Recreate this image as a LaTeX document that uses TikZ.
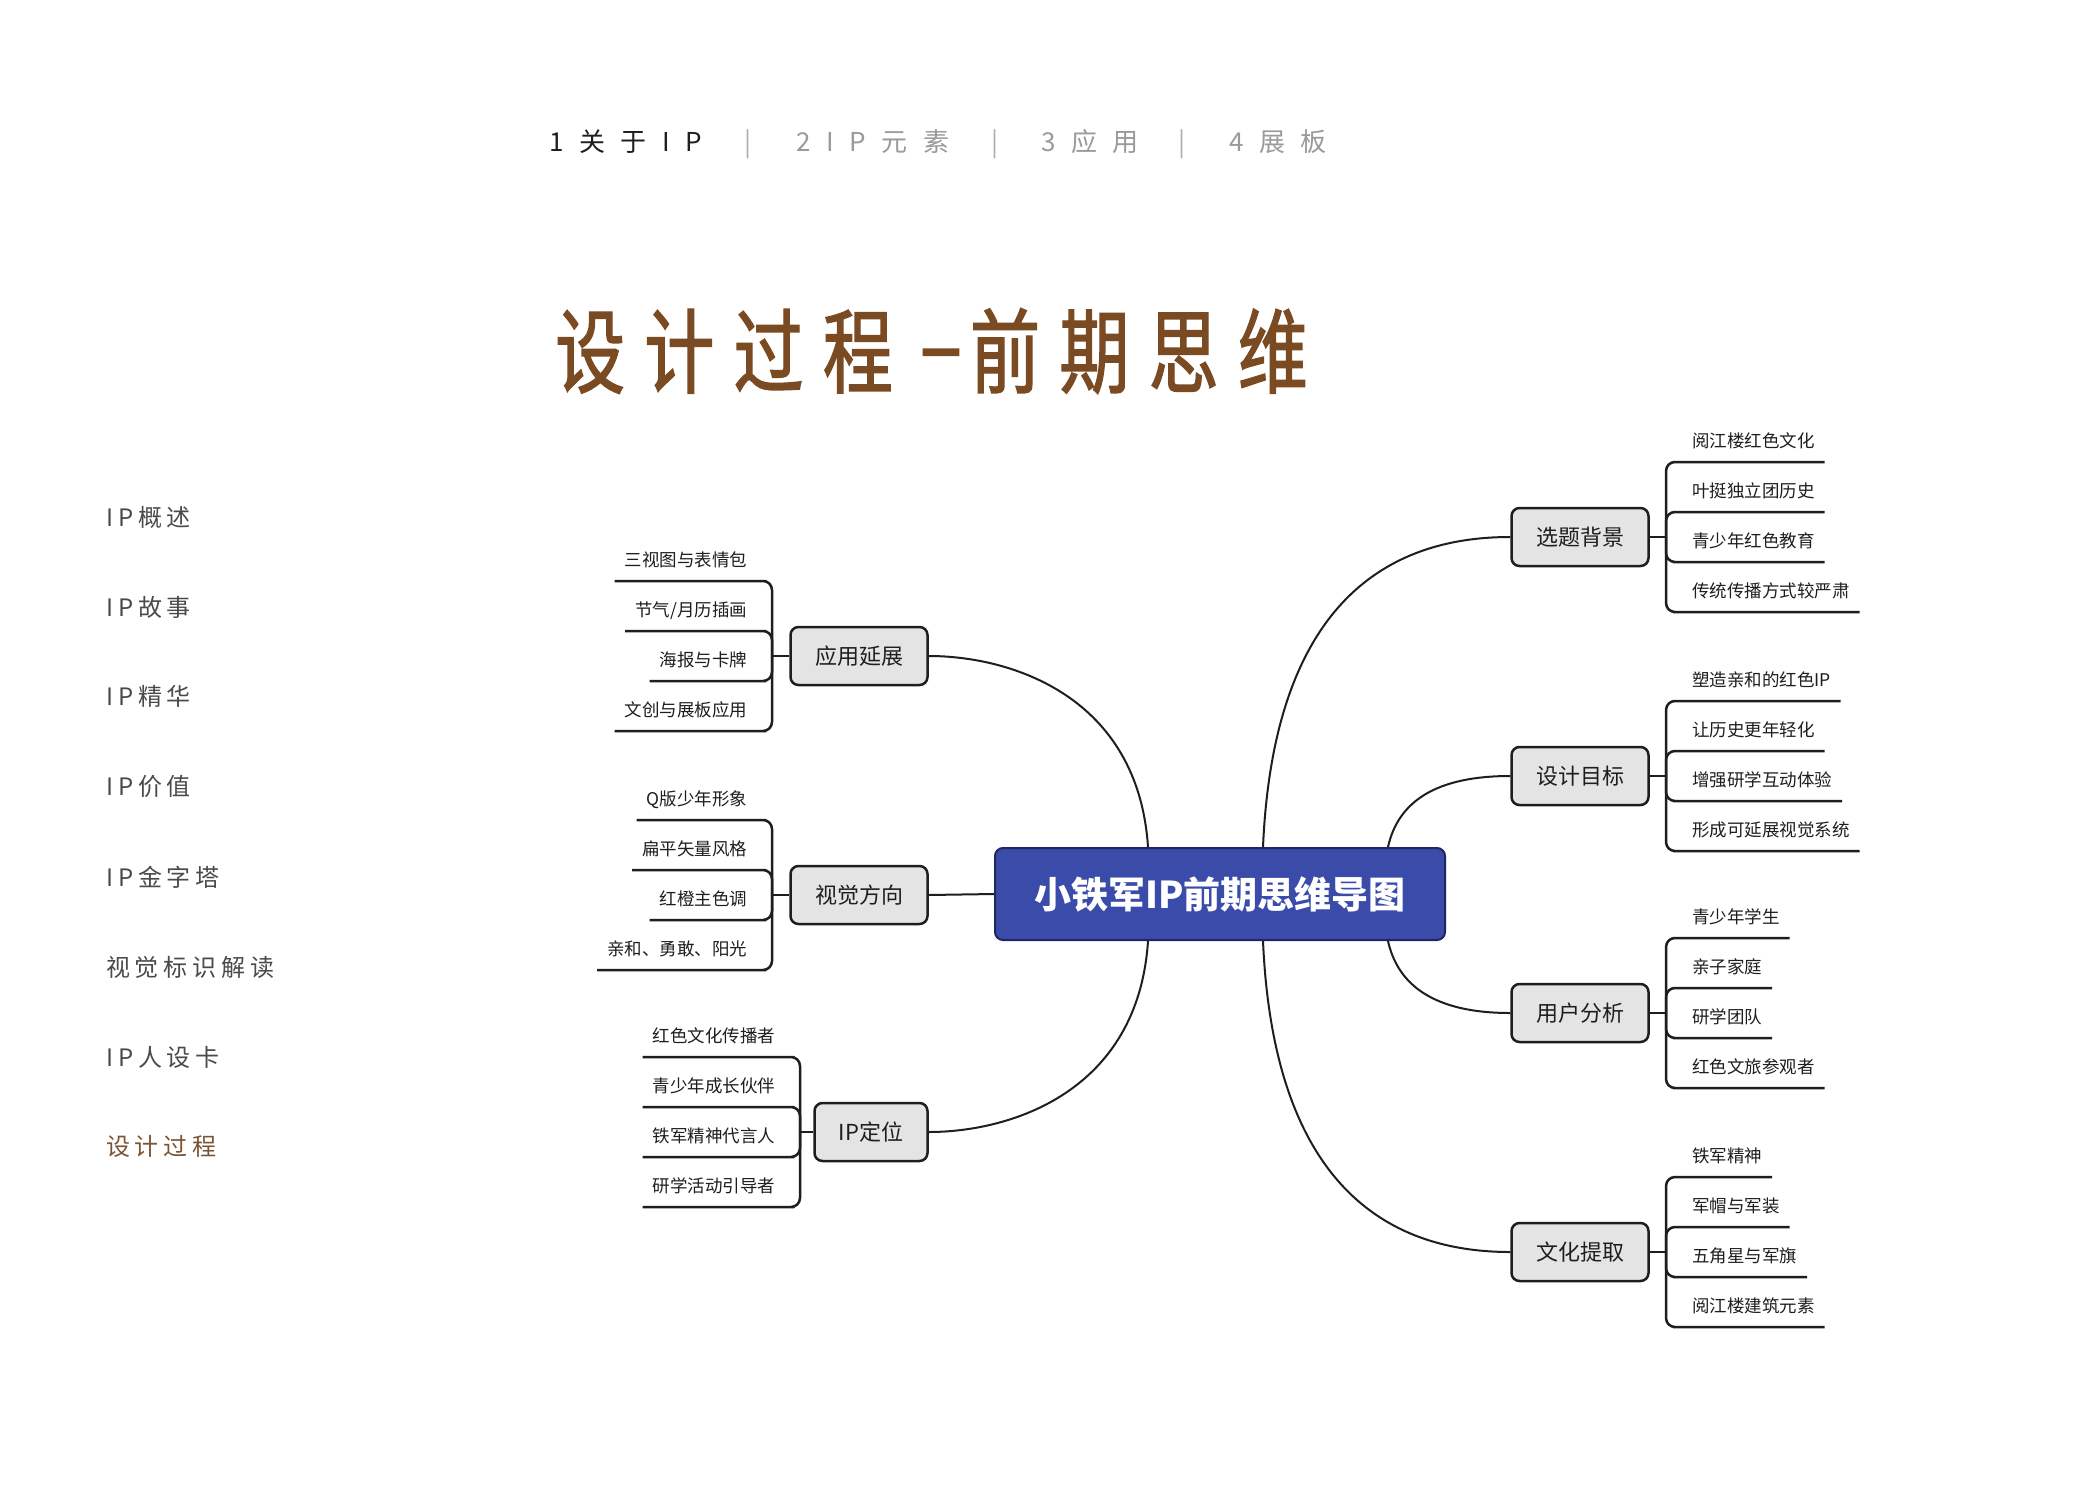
\documentclass[tikz,border=0pt]{standalone}
\usepackage{fontspec}
\setmainfont{Noto Sans CJK SC}
\newfontfamily\navfont[LetterSpace=60]{Noto Sans CJK SC}
\newfontfamily\titlefont[FakeStretch=0.76,LetterSpace=21,FakeBold=1.5]{Noto Sans CJK SC}
\newfontfamily\dashfont[FakeStretch=1.5,FakeBold=1.5]{Noto Sans CJK SC}
\newfontfamily\sidefont[LetterSpace=20]{Noto Sans CJK SC}
\definecolor{linedark}{HTML}{1E1E1E}
\definecolor{boxgray}{HTML}{E4E4E4}
\definecolor{centerblue}{HTML}{3B4BA9}
\definecolor{centerborder}{HTML}{1F2660}
\definecolor{brown}{HTML}{7A4A22}
\definecolor{sidegray}{HTML}{4A4A4A}
\definecolor{navgray}{HTML}{9A9A9A}
\definecolor{sidebrown}{HTML}{7B5433}
\begin{document}
\begin{tikzpicture}[x=1pt,y=-1pt,
  mainbox/.style={draw=linedark, line width=2.5pt, fill=boxgray, rounded corners=8pt,
    minimum width=137pt, minimum height=58pt, inner sep=0pt,
    font=\fontsize{22}{26}\selectfont, text=linedark},
  centerbox/.style={draw=centerborder, line width=2pt, fill=centerblue, rounded corners=8pt,
    minimum width=450pt, minimum height=92pt, inner sep=0pt,
    font=\fontsize{37}{41}\selectfont\bfseries, text=white},
  leafR/.style={anchor=south west, inner xsep=10pt, inner ysep=0pt, outer sep=0pt,
    text height=13pt, text depth=15pt, font=\fontsize{17.5}{20}\selectfont, text=linedark},
  leafL/.style={leafR, anchor=south east},
  conn/.style={draw=linedark, line width=2pt},
  uline/.style={draw=linedark, line width=2.5pt, rounded corners=9pt},
  navtext/.style={anchor=base west, inner sep=0pt, font=\fontsize{26}{30}\navfont},
  navsep/.style={anchor=base, inner sep=0pt, font=\fontsize{26}{30}\selectfont, text=navgray!80},
  titletext/.style={anchor=base west, inner sep=0pt, font=\fontsize{92}{96}\titlefont, text=brown},
  sidetext/.style={anchor=west, inner sep=0pt, font=\fontsize{24}{28}\sidefont, text=sidegray}
]
\fill[white] (0,0) rectangle (2100,1485);
\useasboundingbox (0,0) rectangle (2100,1485);

% navigation
\node[navtext, text=linedark] (n1) at (549,151) {1关于IP};
\node[navsep] (s1) at (748,151) {|};
\node[navtext, text=navgray] (n2) at (796,151) {2IP元素};
\node[navsep] (s2) at (995,151) {|};
\node[navtext, text=navgray] (n3) at (1041,151) {3应用};
\node[navsep] (s3) at (1182,151) {|};
\node[navtext, text=navgray] (n4) at (1229,151) {4展板};

% title
\node[titletext] (t1) at (555,386) {设计过程};
\node[anchor=base, inner sep=0pt, font=\fontsize{92}{96}\dashfont, text=brown] (t2) at (941,378) {-};
\node[titletext] (t3) at (970,386) {前期思维};

% sidebar
\node[sidetext] (m1) at (106,517) {IP概述};
\node[sidetext] (m2) at (106,607) {IP故事};
\node[sidetext] (m3) at (106,696) {IP精华};
\node[sidetext] (m4) at (106,786) {IP价值};
\node[sidetext] (m5) at (106,877) {IP金字塔};
\node[sidetext] (m6) at (106,967) {视觉标识解读};
\node[sidetext] (m7) at (106,1057) {IP人设卡};
\node[sidetext, text=sidebrown] (m8) at (106,1146) {设计过程};

% center
\node[centerbox] (c) at (1220,894) {小铁军IP前期思维导图};

% main topic nodes
\node[mainbox] (a1) at (859,656) {应用延展};
\node[mainbox] (a2) at (859,895) {视觉方向};
\node[mainbox, minimum width=113pt] (a3) at (871,1132) {IP定位};
\node[mainbox] (b1) at (1580,537) {选题背景};
\node[mainbox] (b2) at (1580,776) {设计目标};
\node[mainbox] (b3) at (1580,1013) {用户分析};
\node[mainbox] (b4) at (1580,1252) {文化提取};

% connectors from center
\draw[conn] ([xshift=-72pt]c.north) .. controls +(-10,-151) and +(82,0) .. (a1.east);
\draw[conn] (c.west) -- (a2.east);
\draw[conn] ([xshift=-72pt]c.south) .. controls +(-10,151) and +(82,0) .. (a3.east);
\draw[conn] ([xshift=43pt]c.north) .. controls +(9,-209) and +(-152,0) .. (b1.west);
\draw[conn] ([xshift=168pt]c.north) .. controls +(10,-45) and +(-75,0) .. (b2.west);
\draw[conn] ([xshift=168pt]c.south) .. controls +(10,45) and +(-75,0) .. (b3.west);
\draw[conn] ([xshift=43pt]c.south) .. controls +(9,209) and +(-152,0) .. (b4.west);

% spines
\coordinate (a1s) at (772,656);
\coordinate (a2s) at (772,895);
\coordinate (a3s) at (800,1132);
\coordinate (b1s) at (1666,537);
\coordinate (b2s) at (1666,776);
\coordinate (b3s) at (1666,1013);
\coordinate (b4s) at (1666,1252);

% left leaves
\node[leafL] (a1a) at (757,581) {三视图与表情包};
\node[leafL] (a1b) at (757,631) {节气/月历插画};
\node[leafL] (a1c) at (757,681) {海报与卡牌};
\node[leafL] (a1d) at (757,731) {文创与展板应用};

\node[leafL] (a2a) at (757,820) {Q版少年形象};
\node[leafL] (a2b) at (757,870) {扁平矢量风格};
\node[leafL] (a2c) at (757,920) {红橙主色调};
\node[leafL] (a2d) at (757,970) {亲和、勇敢、阳光};

\node[leafL] (a3a) at (785,1057) {红色文化传播者};
\node[leafL] (a3b) at (785,1107) {青少年成长伙伴};
\node[leafL] (a3c) at (785,1157) {铁军精神代言人};
\node[leafL] (a3d) at (785,1207) {研学活动引导者};

% right leaves
\node[leafR] (b1a) at (1682,462) {阅江楼红色文化};
\node[leafR] (b1b) at (1682,512) {叶挺独立团历史};
\node[leafR] (b1c) at (1682,562) {青少年红色教育};
\node[leafR] (b1d) at (1682,612) {传统传播方式较严肃};

\node[leafR] (b2a) at (1682,701) {塑造亲和的红色IP};
\node[leafR] (b2b) at (1682,751) {让历史更年轻化};
\node[leafR] (b2c) at (1682,801) {增强研学互动体验};
\node[leafR] (b2d) at (1682,851) {形成可延展视觉系统};

\node[leafR] (b3a) at (1682,938) {青少年学生};
\node[leafR] (b3b) at (1682,988) {亲子家庭};
\node[leafR] (b3c) at (1682,1038) {研学团队};
\node[leafR] (b3d) at (1682,1088) {红色文旅参观者};

\node[leafR] (b4a) at (1682,1177) {铁军精神};
\node[leafR] (b4b) at (1682,1227) {军帽与军装};
\node[leafR] (b4c) at (1682,1277) {五角星与军旗};
\node[leafR] (b4d) at (1682,1327) {阅江楼建筑元素};

% stems
\foreach \p in {a1,a2,a3} \draw[conn] (\p.west) -- (\p s);
\foreach \p in {b1,b2,b3,b4} \draw[conn] (\p.east) -- (\p s);

% leaf connectors with underlines
\foreach \p in {a1,a2,a3}
  \foreach \q in {a,b,c,d}
    \draw[uline] (\p s) |- (\p\q.south east) -- (\p\q.south west);
\foreach \p in {b1,b2,b3,b4}
  \foreach \q in {a,b,c,d}
    \draw[uline] (\p s) |- (\p\q.south west) -- (\p\q.south east);
\end{tikzpicture}
\end{document}
